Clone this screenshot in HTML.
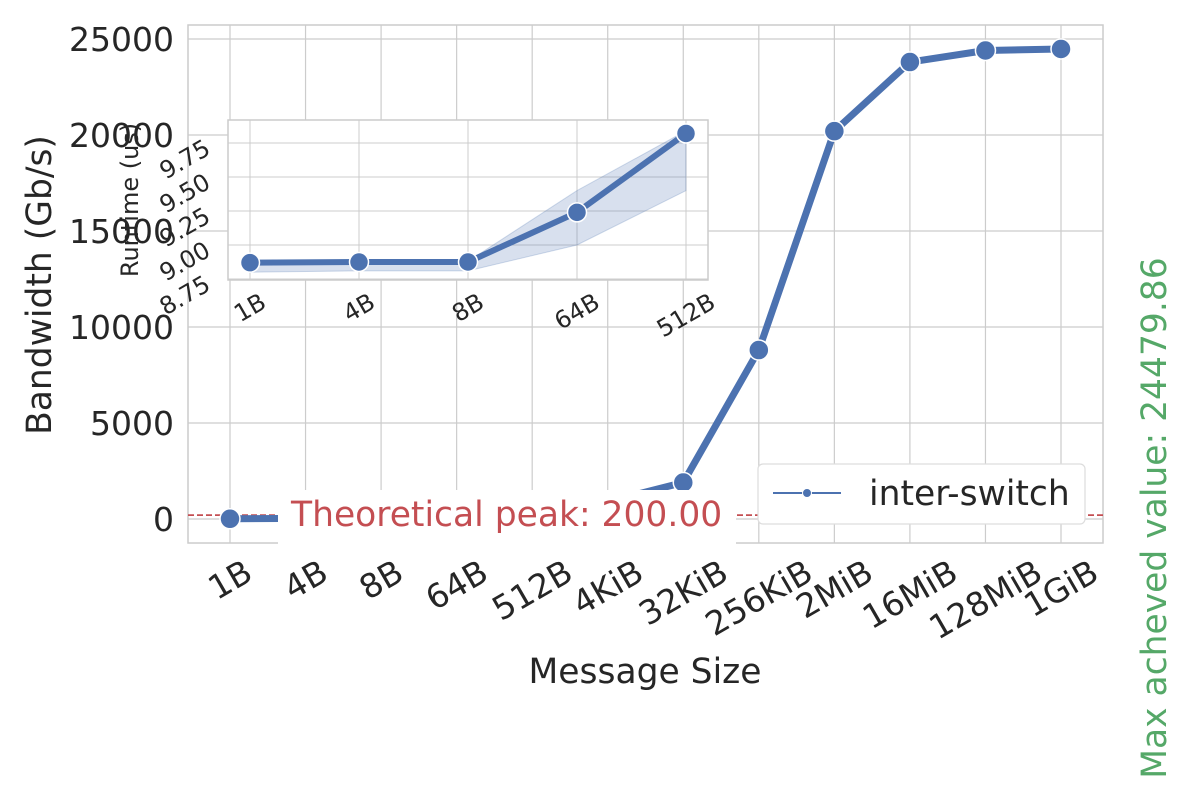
<!DOCTYPE html>
<html><head><meta charset="utf-8"><style>
body{margin:0;background:#fff;width:1200px;height:800px;overflow:hidden;font-family:"DejaVu Sans","Liberation Sans",sans-serif}
svg text{font-family:"DejaVu Sans","Liberation Sans",sans-serif}
</style></head><body>
<svg id="chart" width="1200" height="800" xmlns="http://www.w3.org/2000/svg"></svg>
<script>
const categories=["1B","4B","8B","64B","512B","4KiB","32KiB","256KiB","2MiB","16MiB","128MiB","1GiB"];
const bandwidth=[10,30,60,150,400,900,1900,8800,20200,23800,24400,24479.86];
const yTicks=[0,5000,10000,15000,20000,25000];
const insetCats=["1B","4B","8B","64B","512B"];
const runtime=[8.87,8.875,8.875,9.24,9.82];
const runtimeLo=[8.80,8.81,8.81,9.00,9.40];
const runtimeHi=[8.87,8.88,8.88,9.40,9.84];
const insetTicks=[8.75,9.00,9.25,9.50,9.75];
const peak=200;

const NS="http://www.w3.org/2000/svg";
const svg=document.getElementById('chart');
function mk(tag,attrs,parent,text){const e=document.createElementNS(NS,tag);for(const k in attrs)e.setAttribute(k,attrs[k]);if(text!=null)e.textContent=text;(parent||svg).appendChild(e);return e;}
function centeredRot(t,x,top,fs){
 const w=t.getComputedTextLength();const h=fs*0.75;
 const hh=(w*0.5+h*0.866)/2;const cy=top+hh;
 t.setAttribute('x',x);t.setAttribute('y',cy);
 t.setAttribute('transform',`rotate(-30 ${x} ${cy})`);
}
const blue="#4c72b0",grid="#cccccc";
const L=188,R=1103,T=25,B=543;
const x0=230,dx=(1061-230)/11;
const xs=i=>x0+i*dx;
const ys=v=>519-v*(480/25000);
let e=mk('rect',{x:L,y:T,width:R-L,height:B-T,fill:'#fff',stroke:grid,'stroke-width':1.5});

categories.forEach((c,i)=>{
 let g=mk('line',{x1:xs(i),x2:xs(i),y1:T,y2:B,stroke:grid,'stroke-width':1.2});
 
 let t=mk('text',{x:0,y:0,'font-size':33,fill:'#262626','text-anchor':'middle','dominant-baseline':'central'},null,c);
 
 centeredRot(t,xs(i),558,33);
});
yTicks.forEach(v=>{
 let g=mk('line',{x1:L,x2:R,y1:ys(v),y2:ys(v),stroke:grid,'stroke-width':1.2});
 
 let t=mk('text',{x:174,y:ys(v)+12,'font-size':33,fill:'#262626','text-anchor':'end'},null,String(v));
 
});
e=mk('line',{x1:L,x2:R,y1:ys(peak),y2:ys(peak),stroke:'#c44e52','stroke-width':1.8,'stroke-dasharray':'6,3'});

e=mk('polyline',{points:bandwidth.map((v,i)=>xs(i)+','+ys(v)).join(' '),fill:'none',stroke:blue,'stroke-width':7,'stroke-linejoin':'round'});

bandwidth.forEach((v,i)=>{let c=mk('circle',{cx:xs(i),cy:ys(v),r:10,fill:blue,stroke:'#fff','stroke-width':1.5});
 });
e=mk('rect',{x:278,y:490,width:458,height:56,fill:'#fff'});

e=mk('text',{x:291,y:526,'font-size':34.5,fill:'#c44e52'},null,'Theoretical peak: 200.00');

e=mk('rect',{x:758,y:464,width:327,height:60,rx:5,fill:'#fff',stroke:'#dddddd','stroke-width':1.2});

e=mk('line',{x1:773,x2:841,y1:493,y2:493,stroke:blue,'stroke-width':2});

e=mk('circle',{cx:807,cy:493,r:4.5,fill:blue,stroke:'#fff','stroke-width':1});

e=mk('text',{x:869,y:505,'font-size':34.5,fill:'#262626'},null,'inter-switch');

e=mk('text',{x:645,y:683,'font-size':34.5,fill:'#262626','text-anchor':'middle'},null,'Message Size');

e=mk('text',{x:51,y:285,'font-size':34.5,fill:'#262626','text-anchor':'middle',transform:'rotate(-90 51 285)'},null,'Bandwidth (Gb/s)');

e=mk('text',{x:1166,y:518,'font-size':34.5,fill:'#55a868','text-anchor':'middle',transform:'rotate(-90 1166 518)'},null,'Max acheved value: 24479.86');

const iL=228,iR=708,iT=120,iB=280;
const ix=i=>250+i*(686-250)/4;
const iy=v=>279-(v-8.75)*(136/1);
e=mk('rect',{x:iL,y:iT,width:iR-iL,height:iB-iT,fill:'#fff',stroke:grid,'stroke-width':1.5});

insetCats.forEach((c,i)=>{
 let g=mk('line',{x1:ix(i),x2:ix(i),y1:iT,y2:iB,stroke:grid,'stroke-width':1});
 
 let t=mk('text',{x:0,y:0,'font-size':24,fill:'#262626','text-anchor':'middle','dominant-baseline':'central'},null,c);
 
 centeredRot(t,ix(i),292,24);
});
insetTicks.forEach(v=>{
 let g=mk('line',{x1:iL,x2:iR,y1:iy(v),y2:iy(v),stroke:grid,'stroke-width':1});
 
 let t=mk('text',{x:212,y:iy(v)+10,'font-size':24,fill:'#262626','text-anchor':'end',transform:`rotate(-30 212 ${iy(v)+10})`},null,v.toFixed(2));
 
});
const band=runtimeHi.map((v,i)=>ix(i)+','+iy(v)).concat(runtimeLo.map((v,i)=>ix(i)+','+iy(v)).reverse()).join(' ');
e=mk('polygon',{points:band,fill:blue,'fill-opacity':0.22,stroke:blue,'stroke-opacity':0.25});

e=mk('polyline',{points:runtime.map((v,i)=>ix(i)+','+iy(v)).join(' '),fill:'none',stroke:blue,'stroke-width':6,'stroke-linejoin':'round'});

runtime.forEach((v,i)=>{let c=mk('circle',{cx:ix(i),cy:iy(v),r:9.5,fill:blue,stroke:'#fff','stroke-width':1.5});
 });
e=mk('text',{x:138,y:200,'font-size':24,fill:'#262626','text-anchor':'middle',transform:'rotate(-90 138 200)'},null,'Runtime (us)');

</script>
</body></html>
